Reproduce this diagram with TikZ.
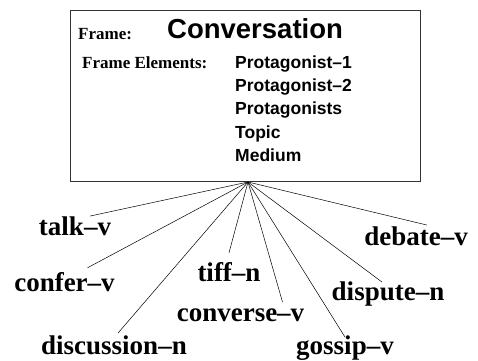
\documentclass[tikz,border=0pt]{standalone}
\usepackage{fontspec}
\setmainfont{Liberation Serif}
\newfontfamily\hvfont{Liberation Sans}
\tikzset{
    framebox/.style={draw=black!80,line width=0.8pt,minimum width=350pt,minimum height=171pt,inner sep=0pt},
    tag/.style={font=\bfseries\fontsize{17}{20}\selectfont,anchor=base west,inner sep=0pt},
    title/.style={font=\hvfont\bfseries\fontsize{27.5}{30}\selectfont,anchor=base west,inner sep=0pt},
    fe/.style={font=\hvfont\bfseries\fontsize{17.5}{20}\selectfont,anchor=base west,inner sep=0pt},
    lu/.style={font=\bfseries\fontsize{27}{30}\selectfont,anchor=base,inner sep=1pt},
    fan/.style={
        every edge/.style={draw,line width=0.5pt},
    }
}

\begin{document}
\begin{tikzpicture}[x=1pt,y=-1pt,fan]
    \useasboundingbox (0,0) rectangle (478,360);
    % the frame box
    \node[framebox] (frame) at (245,95.5) {};
    \node[tag] (fname) at (78,39) {Frame:};
    \node[title] (conv) at (167,38) {Conversation};
    \node[tag] (felab) at (82,68) {Frame Elements:};
    \node[fe] (p1) at (235,68) {Protagonist–1};
    \node[fe] (p2) at (235,91.5) {Protagonist–2};
    \node[fe] (ps) at (235,114.5) {Protagonists};
    \node[fe] (topic) at (235,138) {Topic};
    \node[fe] (medium) at (235,161) {Medium};
    \coordinate (hub) at (248,182);
    % lexical units
    \node[lu] (talk) at (75,235) {talk–v};
    \node[lu] (confer) at (64.5,291) {confer–v};
    \node[lu] (discussion) at (114,354) {discussion–n};
    \node[lu] (tiff) at (229,281) {tiff–n};
    \node[lu] (converse) at (240.5,321) {converse–v};
    \node[lu] (gossip) at (345,354) {gossip–v};
    \node[lu] (dispute) at (388,300) {dispute–n};
    \node[lu] (debate) at (416,245) {debate–v};
    \path
        (hub) edge ([xshift=15pt,yshift=-1pt]talk.north)
        (hub) edge ([xshift=23pt,yshift=3pt]confer.north)
        (hub) edge ([xshift=4pt,yshift=1pt]discussion.north)
        (hub) edge ([yshift=8pt]tiff.north)
        (hub) edge ([xshift=42pt,yshift=5pt]converse.north)
        (hub) edge ([yshift=-3pt]gossip.north)
        (hub) edge ([xshift=-6pt,yshift=-2pt]dispute.north)
        (hub) edge ([xshift=11pt]debate.north)
    ;
\end{tikzpicture}
\end{document}
